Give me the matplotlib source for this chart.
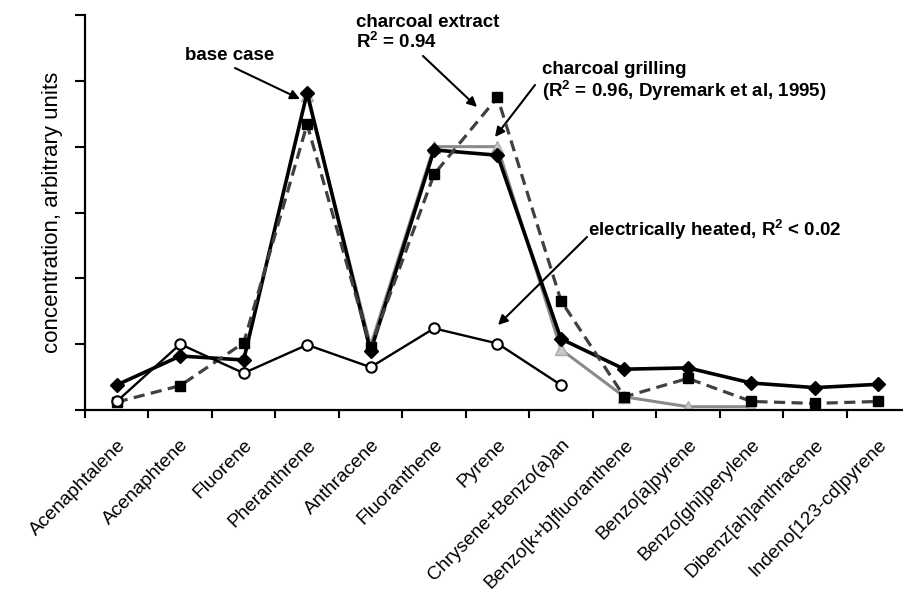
import numpy as np
import matplotlib
matplotlib.use("Agg")
import matplotlib.pyplot as plt

plt.rcParams["font.family"] = ["Liberation Sans", "DejaVu Sans"]
plt.rcParams["mathtext.default"] = "regular"

compounds = [
    "Acenaphtalene", "Acenaphtene", "Fluorene", "Pheranthrene", "Anthracene",
    "Fluoranthene", "Pyrene", "Chrysene+Benzo(a)an", "Benzo[k+b]fluoranthene",
    "Benzo[a]pyrene", "Benzo[ghi]perylene", "Dibenz[ah]anthracene",
    "Indeno[123-cd]pyrene",
]

# arbitrary units
base_case = [0.38, 0.82, 0.76, 4.82, 0.89, 3.95, 3.87, 1.08, 0.62, 0.64, 0.41, 0.34, 0.39]
charcoal_extract = [0.12, 0.37, 1.02, 4.34, 0.95, 3.58, 4.75, 1.66, 0.20, 0.48, 0.13, 0.10, 0.13]
grilling_idx = [3, 4, 5, 6, 7, 8, 9, 10]
charcoal_grilling = [4.78, 0.98, 4.00, 4.00, 0.92, 0.20, 0.05, 0.05]
electric_idx = [0, 1, 2, 3, 4, 5, 6, 7]
electric_heated = [0.13, 1.00, 0.56, 0.99, 0.65, 1.24, 1.01, 0.38]

x = np.arange(len(compounds))

fig = plt.figure(figsize=(9.04, 5.91), dpi=100)
ax = fig.add_axes([85 / 904, 181 / 591, 825 / 904, 395 / 591])

ax.plot(grilling_idx, charcoal_grilling, color="#8a8a8a", lw=2.2, marker="^",
        ms=8, mfc="#c8c8c8", mec="#a8a8a8", zorder=2)
ax.plot(x, base_case, color="black", lw=2.6, marker="D", ms=7.5,
        mfc="black", mec="black", zorder=3)
ax.plot(x, charcoal_extract, color="#404040", lw=2.3, ls=(0, (3.5, 2)),
        marker="s", ms=7.5, mfc="black", mec="black", zorder=4)
ax.plot(electric_idx, electric_heated, color="black", lw=1.7, marker="o",
        ms=7.5, mfc="white", mec="black", mew=1.5, zorder=5)

ax.set_xlim(-0.5, len(compounds) - 0.5)
ax.set_ylim(0, 6)
ax.set_yticks(np.arange(0, 7))
ax.set_yticklabels([])
ax.tick_params(axis="y", direction="out", length=7, width=1.5)

ax.set_xticks(x)
ax.set_xticklabels(compounds, rotation=45, ha="right", rotation_mode="anchor",
                   fontsize=13.8)
ax.set_xticks(np.arange(-0.5, len(compounds)), minor=True)
ax.tick_params(axis="x", which="major", length=0, pad=19)
ax.tick_params(axis="x", which="minor", direction="out", length=6, width=1.5)

for side in ["top", "right"]:
    ax.spines[side].set_visible(False)
for side in ["left", "bottom"]:
    ax.spines[side].set_linewidth(1.6)

ax.set_ylabel("concentration, arbitrary units", fontsize=16, labelpad=5)


def px(xp, yp):
    # figure pixel coords (from top-left) -> figure fraction
    return (xp / 904, 1 - yp / 591)


arrow = dict(arrowstyle="-|>", color="black", lw=1.5, mutation_scale=14,
             shrinkA=0, shrinkB=0)
font = dict(fontsize=13.5, fontweight="bold", xycoords="figure fraction",
            textcoords="figure fraction")

ax.annotate("", xy=px(300, 99), xytext=px(235, 68), arrowprops=arrow, **font)
fig.text(*px(230, 55), "base case", ha="center", va="center",
         fontsize=13.5, fontweight="bold")

ax.annotate("", xy=px(477, 107), xytext=px(423, 56), arrowprops=arrow, **font)
fig.text(*px(356, 33), "charcoal extract\nR$^2$ = 0.94", ha="left",
         va="center", fontsize=13.5, fontweight="bold", linespacing=1.0)

ax.annotate("", xy=px(495, 137), xytext=px(535, 85), arrowprops=arrow, **font)
fig.text(*px(542, 82), "charcoal grilling\n(R$^2$ = 0.96, Dyremark et al, 1995)",
         ha="left", va="center", fontsize=13.5, fontweight="bold",
         linespacing=1.0)

ax.annotate("", xy=px(498, 325), xytext=px(587, 237), arrowprops=arrow, **font)
fig.text(*px(588, 230), "electrically heated, R$^2$ < 0.02", ha="left",
         va="center", fontsize=13.5, fontweight="bold")

fig.savefig("out.png", dpi=100)
